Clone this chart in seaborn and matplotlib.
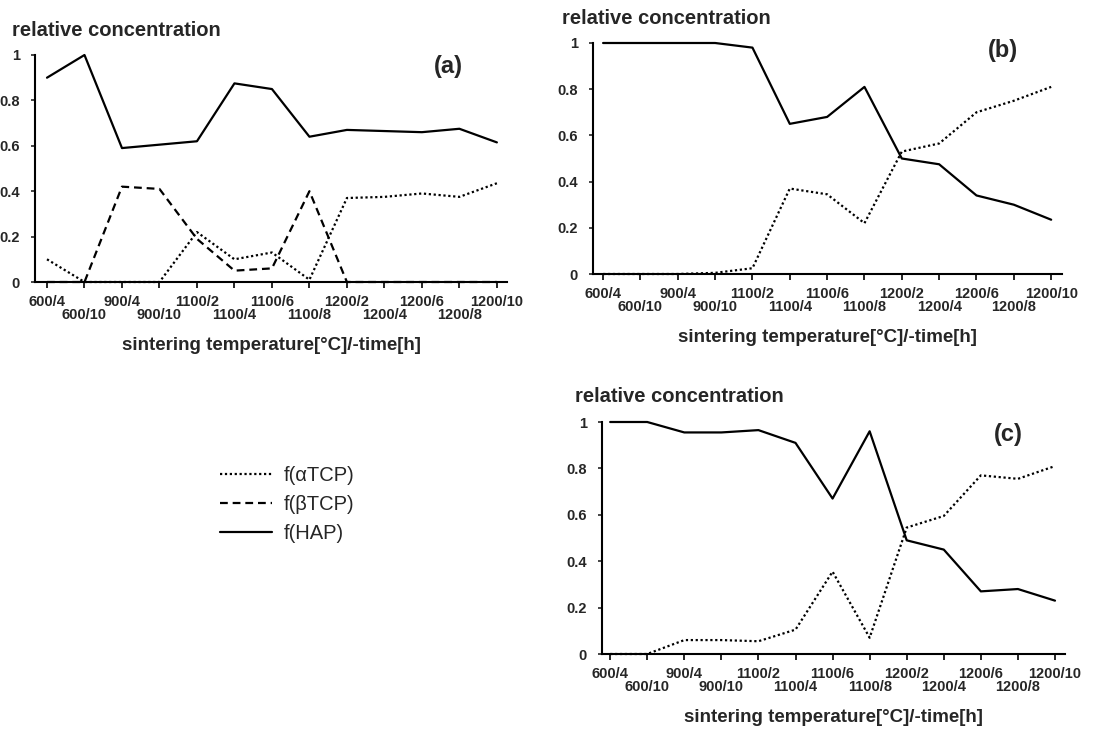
import pandas as pd
import seaborn as sns
import matplotlib.pyplot as plt

sns.set_style('ticks')
plt.rcParams['font.family'] = ['Liberation Sans', 'DejaVu Sans']

labels = ['600/4', '600/10', '900/4', '900/10', '1100/2', '1100/4', '1100/6',
          '1100/8', '1200/2', '1200/4', '1200/6', '1200/8', '1200/10']

# panel (a)
a_alpha = [0.10, 0.0, 0.0, 0.0, 0.22, 0.10, 0.13, 0.01, 0.37, 0.375, 0.39, 0.375, 0.435]
a_beta = [0.0, 0.0, 0.42, 0.41, 0.19, 0.05, 0.06, 0.40, 0.0, 0.0, 0.0, 0.0, 0.0]
a_hap = [0.90, 1.0, 0.59, 0.605, 0.62, 0.875, 0.85, 0.64, 0.67, 0.665, 0.66, 0.675, 0.615]
# panel (b)
b_alpha = [0.0, 0.0, 0.0, 0.005, 0.025, 0.37, 0.345, 0.22, 0.53, 0.565, 0.70, 0.75, 0.81]
b_hap = [1.0, 1.0, 1.0, 1.0, 0.98, 0.65, 0.68, 0.81, 0.50, 0.475, 0.34, 0.30, 0.235]
# panel (c)
c_alpha = [0.0, 0.0, 0.06, 0.06, 0.055, 0.105, 0.355, 0.07, 0.545, 0.595, 0.77, 0.755, 0.81]
c_hap = [1.0, 1.0, 0.955, 0.955, 0.965, 0.91, 0.67, 0.96, 0.49, 0.45, 0.27, 0.28, 0.23]

names = ['f(αTCP)', 'f(βTCP)', 'f(HAP)']
dash_map = {'f(αTCP)': (1, 1.2), 'f(βTCP)': (3.5, 2.2), 'f(HAP)': ''}

W, H = 1113, 731


def frame(series):
    rows = []
    for name, vals in series.items():
        for i, v in enumerate(vals):
            rows.append({'x': i, 'value': v, 'phase': name})
    return pd.DataFrame(rows)


def box(left, right, top, bottom):
    return [left / W, 1 - bottom / H, (right - left) / W, (bottom - top) / H]


fig = plt.figure(figsize=(W / 100, H / 100), dpi=100)

panels = [
    ('(a)', box(35, 507, 55, 282), (-0.32, 12.27),
     {names[0]: a_alpha, names[1]: a_beta, names[2]: a_hap},
     (12, 30), (448, 67)),
    ('(b)', box(593, 1062, 43, 274), (-0.27, 12.29),
     {names[0]: b_alpha, names[2]: b_hap},
     (562, 18), (1003, 50)),
    ('(c)', box(602, 1065, 422, 654), (-0.22, 12.27),
     {names[0]: c_alpha, names[2]: c_hap},
     (575, 397), (1008, 434)),
]

handles = None
for tag, rect, xlim, series, title_xy, tag_xy in panels:
    ax = fig.add_axes(rect)
    df = frame(series)
    order = [n for n in names if n in series]
    sns.lineplot(data=df, x='x', y='value', style='phase', style_order=order,
                 dashes=dash_map, color='black', linewidth=1.6, ax=ax,
                 legend=(tag == '(a)'))
    for ln in ax.lines:
        ln.set_clip_on(False)
    if tag == '(a)':
        handles, hl = ax.get_legend_handles_labels()
        ax.legend_.remove()
    ax.set_xlim(*xlim)
    ax.set_ylim(0, 1)
    ax.set_xticks(range(0, 13, 2))
    ax.set_xticklabels(labels[::2])
    ax.set_xticks(range(1, 13, 2), minor=True)
    ax.set_xticklabels(labels[1::2], minor=True)
    ax.set_yticks([0, 0.2, 0.4, 0.6, 0.8, 1])
    ax.set_yticklabels(['0', '0.2', '0.4', '0.6', '0.8', '1'])
    ax.tick_params(axis='x', which='major', length=4, width=1.2, pad=5,
                   labelsize=10.5, color='black')
    ax.tick_params(axis='x', which='minor', length=4, width=1.2, pad=15,
                   labelsize=10.5, color='black')
    ax.tick_params(axis='y', length=3, width=1.2, pad=8, labelsize=10.5)
    for lab in ax.get_xticklabels(which='both') + ax.get_yticklabels():
        lab.set_fontweight('bold')
    ax.set_xlabel('sintering temperature[°C]/-time[h]', fontsize=13.5,
                  fontweight='bold', labelpad=10.5)
    ax.set_ylabel('')
    sns.despine(ax=ax)
    for s in ['left', 'bottom']:
        ax.spines[s].set_linewidth(1.5)
        ax.spines[s].set_color('black')
    fig.text(title_xy[0] / W, 1 - title_xy[1] / H, 'relative concentration',
             fontsize=14.5, fontweight='bold', ha='left', va='center')
    fig.text(tag_xy[0] / W, 1 - tag_xy[1] / H, tag, fontsize=17,
             fontweight='bold', ha='center', va='center')

fig.legend(handles, hl, loc='upper left', bbox_to_anchor=(220 / W, 1 - 466 / H),
           frameon=False, fontsize=14.5, handlelength=2.6, handletextpad=0.55,
           labelspacing=0.5, borderpad=0, borderaxespad=0)

fig.savefig('out.png', dpi=100)
